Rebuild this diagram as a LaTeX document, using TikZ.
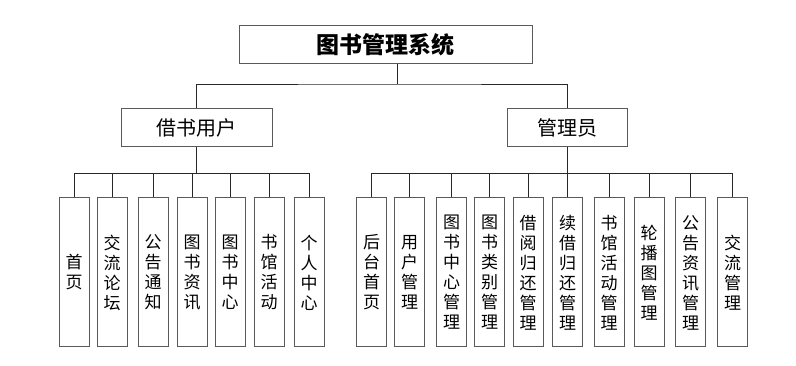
\documentclass[tikz,border=0pt]{standalone}
\usepackage{fontspec}
\setmainfont{Noto Sans CJK SC}
\usetikzlibrary{calc, positioning}
\definecolor{linecol}{RGB}{40, 40, 40}
\definecolor{edgecol}{RGB}{90, 90, 90}
\tikzset{
  blk/.style   = {draw=edgecol, line width=1pt, fill=white, align=center,
                  inner sep=0pt},
  top/.style   = {blk, minimum width=293pt, minimum height=38pt,
                  font=\fontsize{23pt}{26pt}\selectfont\bfseries},
  role/.style  = {blk, minimum height=38pt,
                  font=\fontsize{20pt}{24pt}\selectfont},
  leaf/.style  = {blk, minimum width=30pt, minimum height=149pt,
                  font=\fontsize{17pt}{20pt}\selectfont},
  link/.style  = {draw=linecol, line width=0.9pt},
}

\begin{document}
\begin{tikzpicture}[x=1pt, y=-1pt]
  \useasboundingbox (0,0) rectangle (796,366);

  %% ---------------- the system ----------------
  \node[top] (root) at (385.5,45) {图书管理系统};
  \coordinate (rootdrop) at (397,84);

  %% ---------------- the two roles ----------------
  \node[role, minimum width=151pt] (user)  at (196.5,128) {借书用户};
  \node[role, minimum width=120pt] (admin) at (567,127.5) {管理员};

  \draw[link] (rootdrop |- root.south) -- (rootdrop);
  \draw[link] (user.north) |- (rootdrop) -| (admin.north);

  %% ---------------- what a reader sees ----------------
  \foreach \i/\x/\t in {1/74/{首\\页}, 2/112/{交\\流\\论\\坛},
                        3/153/{公\\告\\通\\知}, 4/192/{图\\书\\资\\讯},
                        5/230/{图\\书\\中\\心}, 6/269/{书\\馆\\活\\动},
                        7/309/{个\\人\\中\\心}} {
    \node[leaf] (u\i) at (\x,272.5) {\t};
    \draw[link] (user.south) -- ++(0,26) -| (u\i.north);
  }

  %% ---------------- what the admin manages ----------------
  \foreach \i/\x/\t in {1/371.5/{后\\台\\首\\页}, 2/409.5/{用\\户\\管\\理},
                        3/451.5/{图\\书\\中\\心\\管\\理},
                        4/489.5/{图\\书\\类\\别\\管\\理},
                        5/528/{借\\阅\\归\\还\\管\\理},
                        6/567.5/{续\\借\\归\\还\\管\\理},
                        7/609/{书\\馆\\活\\动\\管\\理},
                        8/649/{轮\\播\\图\\管\\理},
                        9/690.5/{公\\告\\资\\讯\\管\\理},
                        10/732.5/{交\\流\\管\\理}} {
    \node[leaf] (a\i) at (\x,272.5) {\t};
    \draw[link] (admin.south) -- ++(0,26.5) -| (a\i.north);
  }

\end{tikzpicture}
\end{document}
